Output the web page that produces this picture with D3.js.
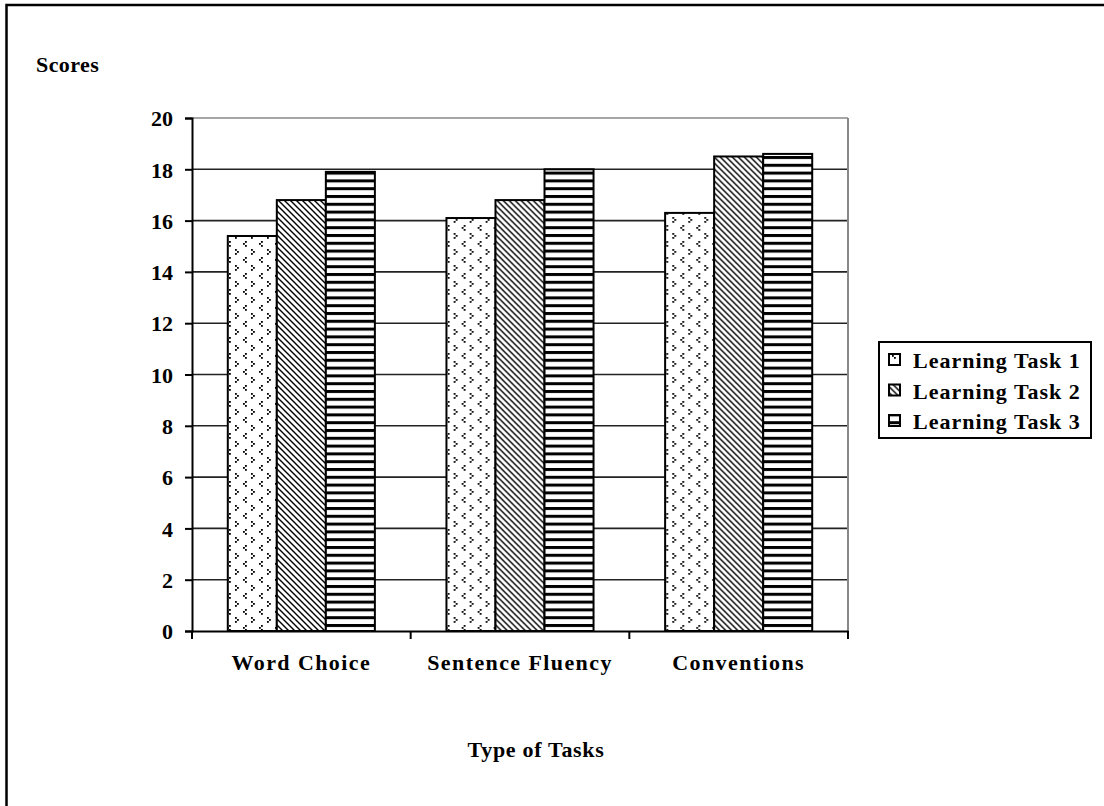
<!DOCTYPE html>
<html>
<head>
<meta charset="utf-8">
<script src="https://cdn.jsdelivr.net/npm/d3@7"></script>
<style>
  html, body { margin: 0; padding: 0; background: #fff; }
  svg { display: block; }
  text { font-family: "Liberation Serif", "Times New Roman", serif; font-weight: bold; fill: #000; }
</style>
</head>
<body>
<svg id="chart" width="1104" height="806"></svg>
<script>
const categories = ["Word Choice", "Sentence Fluency", "Conventions"];
const seriesNames = ["Learning Task 1", "Learning Task 2", "Learning Task 3"];
const task1 = [15.4, 16.1, 16.3];
const task2 = [16.8, 16.8, 18.5];
const task3 = [17.9, 18.0, 18.6];
const yTicks = [0, 2, 4, 6, 8, 10, 12, 14, 16, 18, 20];
const yTitle = "Scores";
const xTitle = "Type of Tasks";

const seriesValues = [task1, task2, task3];
const patternIds = ["pat-dots", "pat-diag", "pat-horiz"];

const svg = d3.select("#chart");

// outer frame (only left & top visible in the reference)
svg.append("rect")
  .attr("x", 6.5).attr("y", 5)
  .attr("width", 1200).attr("height", 900)
  .attr("fill", "none").attr("stroke", "#000").attr("stroke-width", 2.5);

// patterns
const defs = svg.append("defs");
// sparse dots forming small < > marks
const p1 = defs.append("pattern").attr("id", "pat-dots")
  .attr("patternUnits", "userSpaceOnUse").attr("width", 16).attr("height", 16);
p1.append("rect").attr("width", 16).attr("height", 16).attr("fill", "#fff");
[[5,1],[3,3],[5,5],[11,9],[13,11],[11,13]].forEach(([x,y]) =>
  p1.append("rect").attr("x", x).attr("y", y).attr("width", 1.8).attr("height", 1.8).attr("fill", "#000"));
// diagonal (top-left to bottom-right)
const p2 = defs.append("pattern").attr("id", "pat-diag")
  .attr("patternUnits", "userSpaceOnUse").attr("width", 6).attr("height", 6);
p2.append("rect").attr("width", 6).attr("height", 6).attr("fill", "#fff");
p2.append("path").attr("d", "M-1,-1 L7,7 M-1,5 L1,7 M5,-1 L7,1")
  .attr("stroke", "#000").attr("stroke-width", 1.4);
// horizontal stripes
const p3 = defs.append("pattern").attr("id", "pat-horiz")
  .attr("patternUnits", "userSpaceOnUse").attr("width", 8).attr("height", 7.8);
p3.append("rect").attr("width", 8).attr("height", 7.8).attr("fill", "#fff");
p3.append("rect").attr("y", 0).attr("width", 8).attr("height", 3).attr("fill", "#000");

const plot = { left: 192, right: 848, top: 118, bottom: 631 };

const y = d3.scaleLinear().domain([0, 20]).range([plot.bottom, plot.top]);
const x0 = d3.scaleBand().domain(categories).range([plot.left, plot.right]).padding(0);
const x1 = d3.scaleBand().domain(seriesNames).range([0, x0.bandwidth()])
  .paddingInner(0).paddingOuter(0.73);

// gridlines
svg.append("g").selectAll("line").data(yTicks.filter(d => d > 0)).join("line")
  .attr("x1", plot.left).attr("x2", plot.right)
  .attr("y1", d => y(d)).attr("y2", d => y(d))
  .attr("stroke", d => d === 20 ? "#888" : "#222").attr("stroke-width", 1.6);

// right border of plot area
svg.append("line").attr("x1", plot.right).attr("x2", plot.right)
  .attr("y1", plot.top).attr("y2", plot.bottom)
  .attr("stroke", "#888").attr("stroke-width", 2);

// bars
const groups = svg.append("g").selectAll("g").data(categories).join("g")
  .attr("transform", d => `translate(${x0(d)},0)`);
groups.selectAll("rect").data((c, ci) => seriesNames.map((s, si) => ({ s, si, v: seriesValues[si][ci] })))
  .join("rect")
  .attr("x", d => x1(d.s))
  .attr("y", d => y(d.v))
  .attr("width", x1.bandwidth())
  .attr("height", d => y(0) - y(d.v))
  .attr("fill", d => `url(#${patternIds[d.si]})`)
  .attr("stroke", "#000").attr("stroke-width", 2);

// y axis
const yAxis = d3.axisLeft(y).tickValues(yTicks).tickSize(7).tickFormat(d3.format("d"));
const gy = svg.append("g").attr("transform", `translate(${plot.left},0)`).call(yAxis);
gy.select(".domain").attr("stroke", "#000").attr("stroke-width", 2);
gy.selectAll(".tick line").attr("stroke", "#000").attr("stroke-width", 2);
gy.selectAll(".tick text").attr("x", -19).attr("dy", "0.35em")
  .style("font-size", "22px").style("font-family", "'Liberation Serif', serif").style("font-weight", "bold");

// x axis
const xAxis = d3.axisBottom(x0).tickSize(0).tickFormat(d => d);
const gx = svg.append("g").attr("transform", `translate(0,${plot.bottom})`).call(xAxis);
gx.select(".domain").attr("stroke", "#000").attr("stroke-width", 2);
gx.selectAll(".tick text").attr("y", 39).attr("dy", 0)
  .style("font-size", "22px").style("letter-spacing", "1.4px")
  .style("font-family", "'Liberation Serif', serif").style("font-weight", "bold");
// category separator ticks
const edges = [0].concat(categories.map((c, i) => i + 1));
svg.append("g").selectAll("line").data(edges).join("line")
  .attr("x1", i => plot.left + i * x0.step()).attr("x2", i => plot.left + i * x0.step())
  .attr("y1", plot.bottom).attr("y2", plot.bottom + 8)
  .attr("stroke", "#000").attr("stroke-width", 2);

// titles
svg.append("text").attr("x", 36).attr("y", 72).text(yTitle)
  .style("font-size", "22px").style("letter-spacing", "0.4px");
svg.append("text").attr("x", 536).attr("y", 757).attr("text-anchor", "middle").text(xTitle)
  .style("font-size", "22px").style("letter-spacing", "0.7px");

// legend
const lg = svg.append("g");
lg.append("rect").attr("x", 879).attr("y", 342).attr("width", 212).attr("height", 96)
  .attr("fill", "#fff").attr("stroke", "#000").attr("stroke-width", 2);
const items = lg.selectAll("g").data(seriesNames).join("g")
  .attr("transform", (d, i) => `translate(889,${368 + i * 30.5})`);
items.append("rect").attr("x", 0).attr("y", -14).attr("width", 11).attr("height", 11)
  .attr("fill", (d, i) => `url(#${patternIds[i]})`).attr("stroke", "#000").attr("stroke-width", 2);
items.append("text").attr("x", 24).attr("y", 0).text(d => d)
  .style("font-size", "22px").style("letter-spacing", "1px");
</script>
</body>
</html>
